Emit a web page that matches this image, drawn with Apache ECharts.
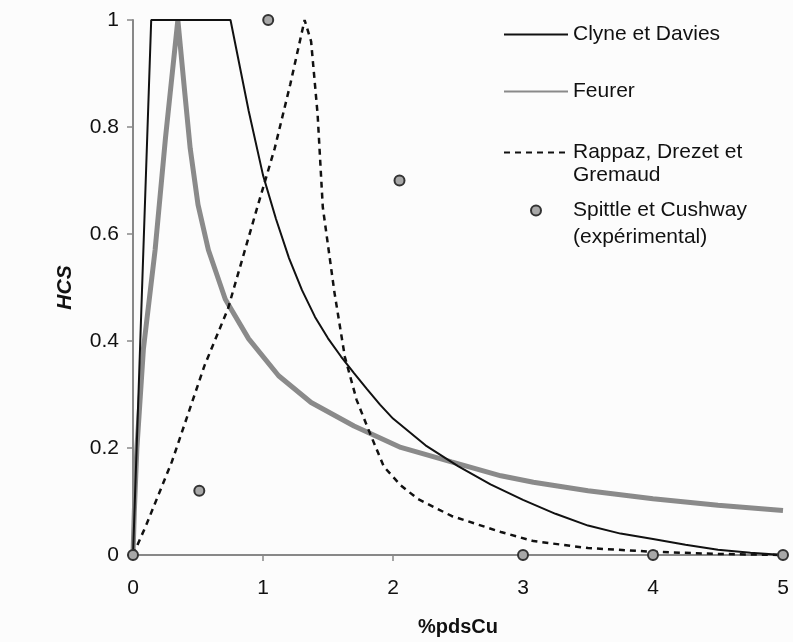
<!DOCTYPE html>
<html>
<head>
<meta charset="utf-8">
<title>HCS - %pdsCu</title>
<script src="https://cdn.jsdelivr.net/npm/echarts@6/dist/echarts.min.js"></script>
<style>
html,body{margin:0;padding:0;background:#fcfcfc;}
#main{width:793px;height:642px;}
</style>
</head>
<body>
<div id="main"></div>
<script type="text/javascript">
// valeurs
var clyneX = [0, 0.14, 0.75, 0.89, 1.0, 1.1, 1.2, 1.3, 1.4, 1.5, 1.6, 1.7, 1.8, 1.9, 2.0, 2.25, 2.5, 2.75, 3.0, 3.25, 3.5, 3.75, 4.0, 4.25, 4.5, 4.75, 5];
var clyneY = [0, 1, 1, 0.83, 0.71, 0.628, 0.555, 0.495, 0.445, 0.405, 0.371, 0.34, 0.31, 0.281, 0.255, 0.205, 0.166, 0.132, 0.103, 0.077, 0.055, 0.04, 0.03, 0.019, 0.01, 0.004, 0];

var feurerX = [0, 0.01, 0.03, 0.08, 0.17, 0.25, 0.345, 0.40, 0.44, 0.50, 0.58, 0.71, 0.89, 1.12, 1.37, 1.70, 2.06, 2.45, 2.83, 3.08, 3.5, 4.0, 4.5, 5];
var feurerY = [0, 0.08, 0.2, 0.385, 0.57, 0.78, 1, 0.86, 0.76, 0.655, 0.57, 0.478, 0.404, 0.335, 0.285, 0.241, 0.201, 0.174, 0.148, 0.136, 0.12, 0.105, 0.093, 0.083];

var rappazX = [0, 0.1, 0.3, 0.55, 0.73, 0.96, 1.09, 1.21, 1.32, 1.37, 1.42, 1.46, 1.55, 1.63, 1.72, 1.81, 1.93, 2.06, 2.19, 2.45, 2.83, 3.08, 3.5, 4.0, 4.5, 5];
var rappazY = [0, 0.055, 0.175, 0.354, 0.46, 0.653, 0.76, 0.88, 1.0, 0.96, 0.824, 0.65, 0.49, 0.37, 0.29, 0.235, 0.165, 0.13, 0.105, 0.073, 0.043, 0.026, 0.013, 0.006, 0.002, 0];

var spittleX = [0, 0.51, 1.04, 2.05, 3, 4, 5];
var spittleY = [0, 0.12, 1.0, 0.70, 0, 0, 0];

var xTicks = [0, 1, 2, 3, 4, 5];

function pairs(xs, ys){
	var out = [];
	for(var i=0;i<xs.length;i++){
		out.push([xs[i], ys[i]]);
	}
	return out;
}

var font = '"Liberation Sans", Arial, Helvetica, sans-serif';
var legendText = {fontSize: 21, color: '#111', fontFamily: font};
var myChart = echarts.init(document.getElementById("main"));
var option = {
	backgroundColor: '#fcfcfc',
	animation: false,
	textStyle: {fontFamily: font},
	grid: {left: 133, right: 10, top: 20, bottom: 86, containLabel: false},
	legend: [
		{
			data: ['Clyne et Davies'], left: 503, top: 24, padding: 0,
			itemWidth: 64, itemHeight: 14, itemStyle: {opacity: 0},
			textStyle: legendText
		},
		{
			data: ['Feurer'], left: 503, top: 81, padding: 0,
			itemWidth: 64, itemHeight: 14, itemStyle: {opacity: 0},
			textStyle: legendText
		},
		{
			// ligne vide au-dessus : la 1re ligne reste alignée sur le trait
			data: ['Rappaz, Drezet et Gremaud'], left: 503, top: 118, padding: 0,
			itemWidth: 64, itemHeight: 14, itemStyle: {opacity: 0},
			formatter: function(){ return ' \nRappaz, Drezet et\nGremaud'; },
			textStyle: {fontSize: 21, lineHeight: 23, color: '#111', fontFamily: font}
		},
		{
			data: ['Spittle et Cushway (expérimental)'], left: 530, top: 170, padding: 0,
			itemWidth: 64, itemHeight: 10,
			formatter: function(){ return ' \nSpittle et Cushway\n(expérimental)'; },
			textStyle: {fontSize: 21, lineHeight: 27, color: '#111', fontFamily: font}
		}
	],
	xAxis: {
		type: 'value', min: 0, max: 5, interval: 1,
		name: '%pdsCu', nameLocation: 'middle', nameGap: 62, nameMoveOverlap: false,
		nameTextStyle: {fontSize: 20, fontWeight: 'bold', color: '#111'},
		axisLine: {lineStyle: {color: '#888', width: 2}},
		axisTick: {length: 6, lineStyle: {color: '#888', width: 1.5}},
		axisLabel: {fontSize: 21, color: '#111', margin: 23, customValues: xTicks},
		splitLine: {show: false}
	},
	yAxis: {
		type: 'value', min: 0, max: 1, interval: 0.2,
		name: 'HCS', nameLocation: 'middle', nameGap: 57,
		nameTextStyle: {fontSize: 21, fontWeight: 'bold', fontStyle: 'italic', color: '#111'},
		axisLine: {lineStyle: {color: '#888', width: 2}},
		axisTick: {length: 6, lineStyle: {color: '#888', width: 1.5}},
		axisLabel: {fontSize: 21, color: '#111', margin: 14},
		splitLine: {show: false}
	},
	series: [
		{
			name: 'Feurer', type: 'line', symbol: 'none', clip: false, z: 2,
			lineStyle: {color: '#8a8a8a', width: 5},
			itemStyle: {color: '#8a8a8a'},
			data: pairs(feurerX, feurerY)
		},
		{
			name: 'Clyne et Davies', type: 'line', symbol: 'none', clip: false, z: 3,
			lineStyle: {color: '#111', width: 2},
			itemStyle: {color: '#111'},
			data: pairs(clyneX, clyneY)
		},
		{
			name: 'Rappaz, Drezet et Gremaud', type: 'line', symbol: 'none', clip: false, z: 3,
			lineStyle: {color: '#111', width: 2.5, type: [6, 5]},
			itemStyle: {color: '#111'},
			data: pairs(rappazX, rappazY)
		},
		{
			name: 'Spittle et Cushway (expérimental)', type: 'scatter', symbol: 'circle', symbolSize: 10, clip: false, z: 5,
			itemStyle: {color: '#a8a8a8', borderColor: '#333', borderWidth: 2, opacity: 1},
			data: pairs(spittleX, spittleY)
		}
	]
};
myChart.setOption(option);
</script>
</body>
</html>
